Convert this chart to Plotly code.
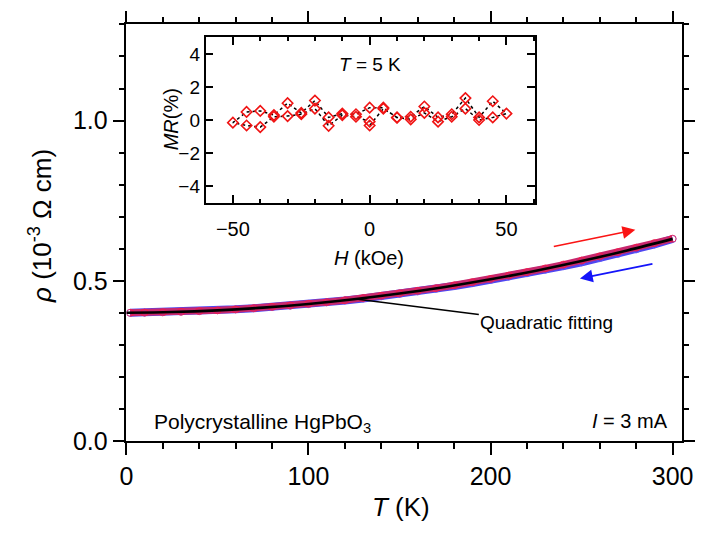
import plotly.graph_objects as go

W, H = 709, 536

# Resistivity vs temperature (10^-3 Ohm cm), warming and cooling sweeps
T_warm = [2, 10, 20, 30, 40, 50, 60, 70, 80, 90, 100, 110, 120, 130, 140, 150,
          160, 170, 180, 190, 200, 210, 220, 230, 240, 250, 260, 270, 280, 290, 300]
rho_warm = [0.401, 0.4016, 0.4026, 0.4041, 0.4061, 0.4087, 0.4117, 0.4152, 0.4192,
            0.4237, 0.4287, 0.4343, 0.4403, 0.4468, 0.4538, 0.4613, 0.4693, 0.4778,
            0.4868, 0.4963, 0.5063, 0.5168, 0.5278, 0.5392, 0.5512, 0.5637, 0.5766,
            0.5900, 0.6040, 0.6184, 0.6320]
T_cool = T_warm
rho_cool = [0.4008, 0.4016, 0.4028, 0.4045, 0.4066, 0.4092, 0.4120, 0.4153, 0.4190,
            0.4232, 0.4281, 0.4335, 0.4393, 0.4456, 0.4524, 0.4597, 0.4675, 0.4757,
            0.4844, 0.4936, 0.5033, 0.5135, 0.5241, 0.5351, 0.5465, 0.5585, 0.5712,
            0.5845, 0.5985, 0.6140, 0.6310]

# Quadratic fit curve
T_fit = [0, 25, 50, 75, 100, 125, 150, 175, 200, 225, 250, 275, 300]
rho_fit = [0.401, 0.4033, 0.4087, 0.4171, 0.4286, 0.4432, 0.4609, 0.4816, 0.5054,
           0.5323, 0.5623, 0.5953, 0.6314]

# Magnetoresistance at 5 K: field sweep 0 -> 50 -> -50 -> 0 kOe
H_field = [0, 5, 10, 15, 20, 25, 30, 35, 40, 45, 50,
           45, 40, 35, 30, 25, 20, 15, 10, 5, 0, -5, -10, -15, -20, -25, -30, -35, -40, -45, -50,
           -45, -40, -35, -30, -25, -20, -15, -10, -5, 0]
MR = [-0.33, 0.69, 0.16, 0.04, 0.43, -0.10, 0.20, 0.69, 0.00, 0.16, 0.39,
      1.14, 0.16, 1.33, 0.35, 0.16, 0.82, 0.20, 0.14, 0.75, 0.75, 0.35, 0.39, 0.16, 1.18,
      0.43, 1.02, 0.30, 0.55, 0.49, -0.16,
      -0.33, -0.43, 0.20, 0.24, 0.35, 0.69, -0.35, 0.30, 0.20, -0.10]

x_ticks = [0, 100, 200, 300]
y_ticks = [0.0, 0.5, 1.0]
h_ticks = [-50, 0, 50]
mr_ticks = [-4, -2, 0, 2, 4]

FONT = "Liberation Sans, Arial, sans-serif"


def px(x):
    return x / W


def py(y):
    return 1 - y / H


fig = go.Figure()

# measured band: cooling underneath, warming on top
fig.add_trace(go.Scatter(x=T_cool, y=rho_cool, mode="lines+markers",
                         line=dict(color="rgb(80,70,240)", width=8),
                         marker=dict(symbol="circle-open", size=7, color="rgba(90,90,255,0.8)",
                                     line=dict(width=1)),
                         xaxis="x", yaxis="y", showlegend=False))
fig.add_trace(go.Scatter(x=T_warm, y=rho_warm, mode="lines+markers",
                         line=dict(color="rgb(200,40,110)", width=7),
                         marker=dict(symbol="circle-open", size=7, color="rgba(255,20,60,0.75)",
                                     line=dict(width=1)),
                         xaxis="x", yaxis="y", showlegend=False))
fig.add_trace(go.Scatter(x=T_fit, y=rho_fit, mode="lines",
                         line=dict(color="black", width=2.6, shape="spline"),
                         xaxis="x", yaxis="y", showlegend=False))

# inset MR data
fig.add_trace(go.Scatter(x=H_field, y=MR, mode="lines+markers",
                         line=dict(color="black", width=1.5, dash="dot"),
                         marker=dict(symbol="diamond-open", size=8, color="rgb(240,20,20)",
                                     line=dict(width=1.6)),
                         xaxis="x2", yaxis="y2", showlegend=False))

axis_common = dict(showline=True, linecolor="black", linewidth=1.5, mirror="allticks",
                   showgrid=False, zeroline=False, tickcolor="black", tickwidth=1.5,
                   ticks="outside")

fig.update_layout(
    width=W, height=H, autosize=False,
    margin=dict(l=0, r=0, t=0, b=0),
    paper_bgcolor="white", plot_bgcolor="white",
    font=dict(family=FONT, color="black"),
    xaxis=dict(axis_common, domain=[px(122.7), px(693.3)], range=[0, 305],
               tickvals=x_ticks, ticklen=12, anchor="y",
               tickfont=dict(size=25),
               minor=dict(dtick=20, tick0=0, ticklen=6, tickwidth=1.5, tickcolor="black",
                          ticks="outside")),
    yaxis=dict(axis_common, domain=[py(453.3), py(25)], range=[0, 1.3],
               tickvals=y_ticks, ticktext=["0.0", "0.5", "1.0"], ticklen=12, anchor="x",
               tickfont=dict(size=25),
               minor=dict(dtick=0.1, tick0=0, ticklen=6, tickwidth=1.5, tickcolor="black",
                          ticks="outside")),
    xaxis2=dict(axis_common, ticks="inside", domain=[px(204), px(542.7)], range=[-60, 60.5],
                tickvals=h_ticks, ticklen=8, anchor="y2", ticklabelstandoff=8,
                tickfont=dict(size=20),
                minor=dict(dtick=10, tick0=0, ticklen=4, tickwidth=1.5, tickcolor="black",
                           ticks="inside")),
    yaxis2=dict(axis_common, ticks="inside", domain=[py(208), py(38.5)], range=[-5, 5],
                tickvals=mr_ticks, ticklen=8, anchor="x2",
                tickfont=dict(size=19)),
)

# direction arrows
fig.add_annotation(x=279.5, y=0.6595, xref="x", yref="y", ax=-83, ay=17, text="",
                   showarrow=True, arrowhead=2, arrowsize=1.6, arrowwidth=1.6,
                   arrowcolor="rgb(250,20,20)")
fig.add_annotation(x=249.1, y=0.5077, xref="x", yref="y", ax=74, ay=-15, text="",
                   showarrow=True, arrowhead=2, arrowsize=1.6, arrowwidth=1.6,
                   arrowcolor="rgb(20,20,250)")

# fit label with pointer
fig.add_annotation(x=126, y=0.444, xref="x", yref="y", ax=191, ay=24,
                   text="Quadratic fitting", showarrow=True, arrowhead=0, arrowwidth=1.5,
                   arrowcolor="black", font=dict(size=19))

texts = [
    dict(x=px(149), y=py(434), text="Polycrystalline HgPbO<sub>3</sub>", size=21, xanchor="left"),
    dict(x=px(640), y=py(432), text="<i>I</i> = 3 mA", size=20, xanchor="center"),
    dict(x=px(373), y=py(66), text="<i>T</i> = 5 K", size=19, xanchor="center"),
    dict(x=px(405), y=py(521), text="<i>T</i> (K)", size=26, xanchor="center"),
    dict(x=px(372), y=py(265), text="<i>H</i> (kOe)", size=20, xanchor="center"),
]
for t in texts:
    fig.add_annotation(x=t["x"], y=t["y"], xref="paper", yref="paper", text=t["text"],
                       showarrow=False, xanchor=t["xanchor"], yanchor="middle",
                       font=dict(size=t["size"]))

fig.add_annotation(x=px(35), y=py(232), xref="paper", yref="paper",
                   text="<i>ρ</i> (10<sup>-3</sup> Ω cm)", textangle=-90, showarrow=False,
                   xanchor="center", yanchor="middle", font=dict(size=26))
fig.add_annotation(x=px(168), y=py(122), xref="paper", yref="paper",
                   text="<i>MR</i>(%)", textangle=-90, showarrow=False,
                   xanchor="center", yanchor="middle", font=dict(size=20))

fig.write_html("out.html")
